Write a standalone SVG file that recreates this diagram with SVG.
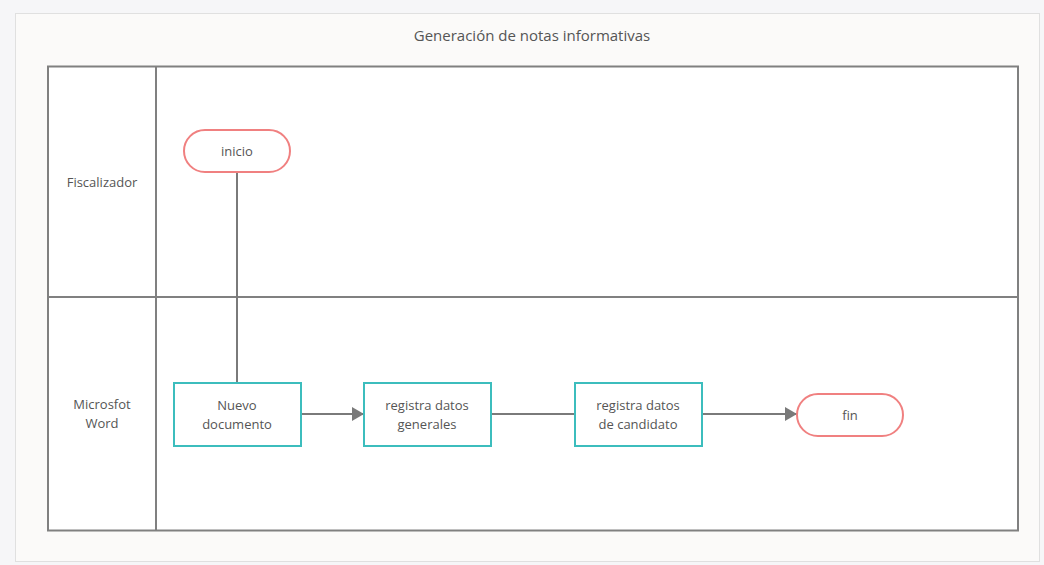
<svg xmlns="http://www.w3.org/2000/svg" width="1044" height="565" viewBox="0 0 1044 565">
<style>
text{font-family:"Open Sans","Liberation Sans",sans-serif;font-size:13px;fill:#555;text-anchor:middle}
.lane{fill:none;stroke:#808080;stroke-width:2}
.proc{fill:#fff;stroke:#3cbdbd;stroke-width:2}
.term{fill:#fff;stroke:#f08080;stroke-width:2}
.conn{fill:none;stroke:#7a7a7a;stroke-width:2}
</style>
<defs>
<marker id="arr" markerWidth="12" markerHeight="14" refX="12" refY="7" orient="auto" markerUnits="userSpaceOnUse">
<path d="M0,0 L12,7 L0,14 z" fill="#7a7a7a"/>
</marker>
</defs>
<rect x="0" y="0" width="1044" height="565" fill="#f6f6f8"/>
<g id="frame">
<rect x="15.5" y="13.5" width="1024" height="548" fill="#fbfaf9" stroke="#e0e0e0" stroke-width="1"/>
<text x="532" y="41" style="font-size:15px">Generación de notas informativas</text>
</g>
<g id="pool">
<rect x="48" y="66.5" width="970" height="464" style="fill:#fff" class="lane"/>
<line x1="156" y1="66.5" x2="156" y2="530.5" class="lane"/>
<line x1="48" y1="297" x2="1018" y2="297" class="lane"/>
</g>
<g id="lane-fiscalizador"><text x="102" y="187">Fiscalizador</text></g>
<g id="lane-word"><text x="102" y="409">Microsfot</text><text x="102" y="428">Word</text></g>
<g id="connectors">
<line x1="237" y1="172" x2="237" y2="383" class="conn"/>
<line x1="301" y1="414" x2="364" y2="414" class="conn" marker-end="url(#arr)"/>
<line x1="491" y1="414" x2="575" y2="414" class="conn"/>
<line x1="702" y1="414" x2="797" y2="414" class="conn" marker-end="url(#arr)"/>
</g>
<g id="inicio">
<rect x="184" y="130" width="106" height="42" rx="21" class="term"/>
<text x="237" y="156">inicio</text>
</g>
<g id="nuevo">
<rect x="174" y="383" width="127" height="63" class="proc"/>
<text x="237" y="410">Nuevo</text><text x="237" y="429">documento</text>
</g>
<g id="generales">
<rect x="364" y="383" width="127" height="63" class="proc"/>
<text x="427" y="410">registra datos</text><text x="427" y="429">generales</text>
</g>
<g id="candidato">
<rect x="575" y="383" width="127" height="63" class="proc"/>
<text x="638" y="410">registra datos</text><text x="638" y="429">de candidato</text>
</g>
<g id="fin">
<rect x="797" y="394" width="106" height="42" rx="21" class="term"/>
<text x="850" y="420">fin</text>
</g>
</svg>
